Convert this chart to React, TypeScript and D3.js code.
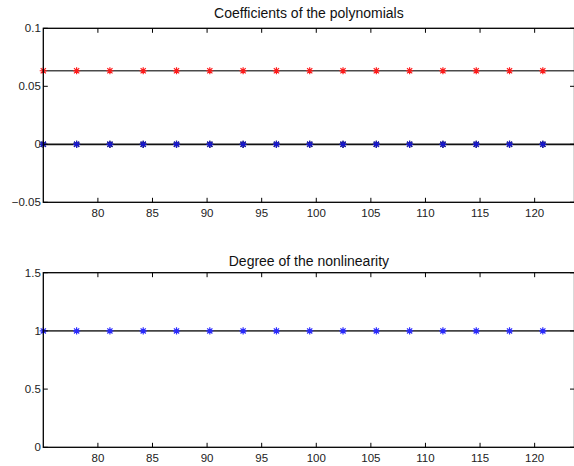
import React, { useEffect, useRef } from "react";
import * as d3 from "d3";

const xValues = [75, 78.05, 81.1, 84.15, 87.2, 90.25, 93.3, 96.35, 99.4, 102.45, 105.5, 108.55, 111.6, 114.65, 117.7, 120.75];
const coefRed = [0.0634, 0.0634, 0.0634, 0.0634, 0.0634, 0.0634, 0.0634, 0.0634, 0.0634, 0.0634, 0.0634, 0.0634, 0.0634, 0.0634, 0.0634, 0.0634];
const coefBlack = [0, 0, 0, 0, 0, 0, 0, 0, 0, 0, 0, 0, 0, 0, 0, 0];
const coefBlue = [0, 0, 0, 0, 0, 0, 0, 0, 0, 0, 0, 0, 0, 0, 0, 0];
const degree = [1, 1, 1, 1, 1, 1, 1, 1, 1, 1, 1, 1, 1, 1, 1, 1];

const xTicks = [80, 85, 90, 95, 100, 105, 110, 115, 120];
const yTicksTop = [-0.05, 0, 0.05, 0.1];
const yTickLabelsTop = ["\u22120.05", "0", "0.05", "0.1"];
const yTicksBottom = [0, 0.5, 1, 1.5];
const yTickLabelsBottom = ["0", "0.5", "1", "1.5"];

const W = 574;
const H = 466;
const FONT = "'Liberation Sans', Arial, Helvetica, sans-serif";

function starPath(cx: number, cy: number, r: number) {
  const d = r * 0.72;
  return `M${cx - r},${cy}L${cx + r},${cy}M${cx},${cy - r}L${cx},${cy + r}` +
    `M${cx - d},${cy - d}L${cx + d},${cy + d}M${cx - d},${cy + d}L${cx + d},${cy - d}`;
}

export default function App() {
  const ref = useRef<SVGSVGElement>(null);

  useEffect(() => {
    document.body.style.margin = "0";
    const svg = d3.select(ref.current);
    svg.selectAll("*").remove();

    const left = 43.3;
    const right = 574.5;
    const x = d3.scaleLinear().domain([75, 123.65]).range([left, right]);

    const panels = [
      {
        top: 28.3, bottom: 202.3, domain: [-0.05, 0.1], ticks: yTicksTop, labels: yTickLabelsTop,
        title: "Coefficients of the polynomials", titleY: 17.5,
        lines: [
          { value: 0.0634, color: "#4a4a4a" },
          { value: 0, color: "#111" },
        ],
        series: [
          { vals: coefRed, color: "#ff1a1a" },
          { vals: coefBlack, color: "#000" },
          { vals: coefBlue, color: "#1818d0" },
        ],
      },
      {
        top: 272.7, bottom: 447.3, domain: [0, 1.5], ticks: yTicksBottom, labels: yTickLabelsBottom,
        title: "Degree of the nonlinearity", titleY: 265.5,
        lines: [{ value: 1, color: "#444" }],
        series: [{ vals: degree, color: "#2a2aff" }],
      },
    ];

    panels.forEach((p) => {
      const y = d3.scaleLinear().domain(p.domain).range([p.bottom, p.top]);
      const g = svg.append("g");

      p.lines.forEach((l) => {
        g.append("line")
          .attr("x1", x(75)).attr("x2", x(123.65))
          .attr("y1", y(l.value)).attr("y2", y(l.value))
          .attr("stroke", l.color).attr("stroke-width", 1.7);
      });

      p.series.forEach((s) => {
        g.append("g").selectAll("path").data(s.vals).join("path")
          .attr("d", (v, i) => starPath(x(xValues[i]), y(v), 3.6))
          .attr("stroke", s.color).attr("stroke-width", 1.2).attr("fill", "none");
      });

      g.append("rect")
        .attr("x", left).attr("y", p.top)
        .attr("width", right - left).attr("height", p.bottom - p.top)
        .attr("fill", "none").attr("stroke", "#000").attr("stroke-width", 1.3);

      xTicks.forEach((t) => {
        const px = x(t);
        g.append("line").attr("x1", px).attr("x2", px).attr("y1", p.bottom).attr("y2", p.bottom - 4.5)
          .attr("stroke", "#000").attr("stroke-width", 1);
        g.append("line").attr("x1", px).attr("x2", px).attr("y1", p.top).attr("y2", p.top + 4.5)
          .attr("stroke", "#000").attr("stroke-width", 1);
        g.append("text").attr("x", px).attr("y", p.bottom + 15)
          .attr("text-anchor", "middle").attr("font-family", FONT).attr("font-size", 11.5)
          .attr("fill", "#222").text(String(t));
      });

      p.ticks.forEach((t, i) => {
        const py = y(t);
        g.append("line").attr("x1", left).attr("x2", left + 4.5).attr("y1", py).attr("y2", py)
          .attr("stroke", "#000").attr("stroke-width", 1);
        g.append("line").attr("x1", right).attr("x2", right - 4.5).attr("y1", py).attr("y2", py)
          .attr("stroke", "#000").attr("stroke-width", 1);
        g.append("text").attr("x", left - 2.5).attr("y", py + 4)
          .attr("text-anchor", "end").attr("font-family", FONT).attr("font-size", 11.5)
          .attr("fill", "#222").text(p.labels[i]);
      });

      g.append("text").attr("x", (left + right) / 2).attr("y", p.titleY)
        .attr("text-anchor", "middle").attr("font-family", FONT).attr("font-size", 14)
        .attr("fill", "#111").text(p.title);
    });
  }, []);

  return <svg ref={ref} width={W} height={H} style={{ display: "block", background: "#fff" }} />;
}
